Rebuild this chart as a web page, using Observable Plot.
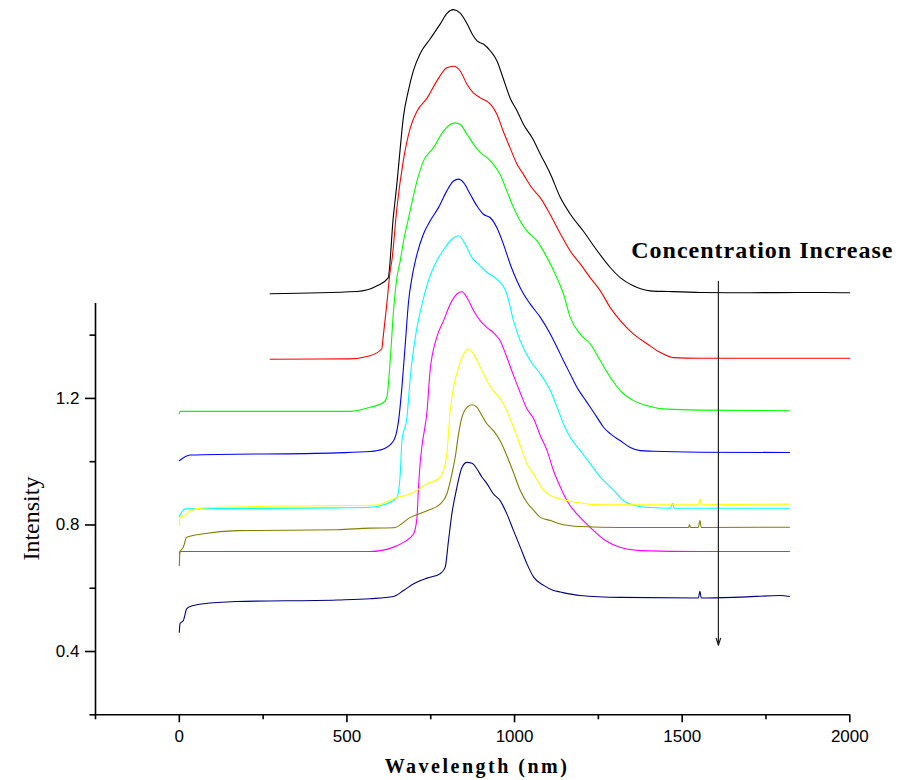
<!DOCTYPE html>
<html><head><meta charset="utf-8">
<script src="https://cdn.jsdelivr.net/npm/d3@7"></script>
<script src="https://cdn.jsdelivr.net/npm/@observablehq/plot@0.6"></script>
<style>html,body{margin:0;padding:0;background:#fff;}</style>
</head><body>
<div id="chart"></div>
<script>
// ---- Data (wavelength in nm, intensity) ----
const blackW = [271,530,590,623,638,649,659,668,683,698,719,748,778,799,817,838,859,874,889,907,928,948,966,987,1008,1026,1053,1077,1107,1137,1166,1205,1247,1286,1316,1354,1405,1456,1554,1700,1850,2000];
const blackI = [1.531,1.538,1.556,1.581,1.770,1.878,1.991,2.086,2.171,2.235,2.291,2.336,2.383,2.418,2.429,2.418,2.383,2.351,2.329,2.320,2.298,2.266,2.212,2.149,2.108,2.067,2.023,1.972,1.909,1.834,1.783,1.729,1.666,1.613,1.581,1.556,1.540,1.538,1.535,1.534,1.535,1.534];

const redW = [271,504,569,604,608,619,629,634,649,668,689,709,739,768,798,818,838,858,877,898,928,947,966,987,1007,1026,1052,1077,1107,1137,1166,1196,1226,1256,1286,1316,1354,1395,1435,1474,1554,2000];
const redI = [1.324,1.325,1.335,1.357,1.393,1.499,1.603,1.635,1.802,1.950,2.055,2.108,2.149,2.203,2.245,2.250,2.235,2.193,2.166,2.150,2.130,2.099,2.045,1.991,1.941,1.909,1.865,1.834,1.780,1.720,1.666,1.625,1.581,1.540,1.486,1.445,1.404,1.373,1.345,1.329,1.327,1.327];

const greenW = [0,2,510,569,609,619,629,639,649,659,669,684,709,728,758,788,808,823,838,858,878,898,918,937,957,977,997,1017,1037,1067,1097,1126,1146,1166,1196,1226,1256,1286,1316,1355,1395,1455,1554,1820];
const greenI = [1.152,1.159,1.159,1.172,1.187,1.203,1.319,1.477,1.582,1.635,1.698,1.771,1.887,1.950,1.992,2.045,2.066,2.071,2.066,2.035,2.003,1.977,1.961,1.940,1.908,1.856,1.803,1.761,1.729,1.698,1.645,1.582,1.530,1.456,1.403,1.372,1.319,1.266,1.224,1.193,1.177,1.166,1.163,1.161];

const blueW = [0,32,470,569,609,639,649,654,664,674,684,694,709,728,748,773,798,818,833,848,868,888,907,928,947,967,987,1007,1027,1047,1077,1107,1127,1146,1166,1186,1206,1226,1246,1266,1286,1316,1345,1375,1415,1554,1820];
const blueI = [1.003,1.021,1.028,1.032,1.040,1.066,1.098,1.130,1.235,1.372,1.508,1.582,1.656,1.719,1.761,1.803,1.856,1.887,1.893,1.882,1.845,1.808,1.782,1.771,1.740,1.687,1.624,1.572,1.530,1.498,1.456,1.403,1.361,1.319,1.277,1.235,1.203,1.172,1.140,1.108,1.088,1.066,1.045,1.035,1.033,1.030,1.029];

const cyanW = [0,17,470,569,619,649,659,664,679,689,704,724,743,768,793,813,833,853,873,893,918,947,977,997,1017,1047,1077,1107,1127,1146,1166,1196,1226,1256,1296,1325,1360,1405,1465,1471,1477,1820];
const cyanI = [0.827,0.851,0.854,0.856,0.867,0.887,0.961,1.066,1.140,1.267,1.393,1.498,1.572,1.635,1.677,1.703,1.714,1.687,1.645,1.624,1.598,1.577,1.530,1.445,1.382,1.319,1.277,1.224,1.172,1.119,1.077,1.035,0.993,0.951,0.909,0.877,0.861,0.855,0.853,0.868,0.853,0.853];

const magentaW = [0,2,569,639,669,699,709,713,719,724,739,748,768,788,808,828,843,858,878,898,918,937,957,977,997,1017,1037,1057,1077,1097,1116,1137,1156,1190,1226,1271,1316,1375,1554,1820];
const magentaI = [0.708,0.716,0.716,0.730,0.745,0.772,0.824,0.909,1.003,1.051,1.161,1.287,1.393,1.445,1.498,1.530,1.537,1.519,1.477,1.445,1.424,1.408,1.382,1.330,1.272,1.218,1.167,1.136,1.082,1.035,0.972,0.919,0.877,0.830,0.792,0.751,0.729,0.719,0.716,0.716];

const yellowW = [0,2,17,32,72,271,470,589,649,689,739,773,788,798,808,818,833,848,863,878,898,918,937,957,977,997,1017,1037,1057,1087,1107,1137,1181,1256,1548,1553,1557,1820];
const yellowI = [0.798,0.824,0.830,0.845,0.854,0.859,0.861,0.863,0.887,0.898,0.930,0.946,0.972,1.024,1.161,1.235,1.298,1.340,1.356,1.340,1.298,1.256,1.224,1.199,1.161,1.108,1.051,0.993,0.961,0.909,0.893,0.882,0.872,0.864,0.864,0.883,0.864,0.866];

const oliveW = [0,2,12,22,72,171,470,569,639,689,739,778,798,813,823,833,843,858,873,888,903,918,937,957,977,997,1017,1037,1057,1077,1107,1137,1196,1316,1519,1522,1525,1548,1553,1557,1820];
const oliveI = [0.672,0.714,0.730,0.761,0.772,0.782,0.785,0.790,0.791,0.824,0.845,0.866,0.898,0.961,1.014,1.088,1.140,1.172,1.180,1.172,1.145,1.119,1.098,1.066,1.019,0.965,0.909,0.871,0.846,0.824,0.814,0.803,0.795,0.792,0.792,0.801,0.792,0.792,0.814,0.792,0.793];

const navyW = [0,2,12,22,32,72,171,470,569,639,669,699,739,778,793,803,813,828,843,858,873,888,903,918,937,957,977,997,1017,1037,1057,1087,1116,1137,1196,1316,1548,1553,1557,1674,1793,1820];
const navyI = [0.461,0.488,0.498,0.535,0.542,0.551,0.558,0.563,0.567,0.574,0.593,0.614,0.632,0.646,0.666,0.751,0.835,0.919,0.982,0.998,0.995,0.977,0.951,0.930,0.898,0.877,0.835,0.782,0.730,0.677,0.635,0.609,0.593,0.588,0.577,0.571,0.569,0.590,0.569,0.572,0.577,0.574];

const seriesNames  = ["black","red","green","blue","cyan","magenta","yellow","olive","navy"];
const seriesColors = ["#000000","#ff0000","#00ff00","#0000ff","#00ffff","#ff00ff","#ffff00","#808000","#000080"];
const seriesW = [blackW, redW, greenW, blueW, cyanW, magentaW, yellowW, oliveW, navyW];
const seriesI = [blackI, redI, greenI, blueI, cyanI, magentaI, yellowI, oliveI, navyI];

const xMajor = [0, 500, 1000, 1500, 2000];
const xMinor = [-250, 250, 750, 1250, 1750];
const yMajor = [0.4, 0.8, 1.2];
const yMinor = [0.2, 0.6, 1.0, 1.4];

const annotationText = ["Concentration Increase"];
const annotationPos = [1739, 1.645];
const arrowPos = [1608, 1.57, 0.42];

// ---- Build table ----
const rows = seriesNames.flatMap((name, s) =>
  seriesW[s].map((w, k) => ({series: name, color: seriesColors[s], wl: w, intensity: seriesI[s][k]})));

const serif = "'Liberation Serif', 'Times New Roman', serif";

const chart = Plot.plot({
  width: 898, height: 780,
  marginLeft: 95, marginRight: 48.7, marginTop: 303, marginBottom: 65.7,
  style: {fontFamily: "'Liberation Sans', Arial, sans-serif", background: "white", overflow: "visible", color: "black"},
  x: {domain: [-250, 2000]},
  y: {domain: [0.2, 1.5]},
  color: {type: "identity"},
  marks: [
    Plot.line(rows, {x: "wl", y: "intensity", z: "series", stroke: "color", strokeWidth: 1.1, curve: "monotone-x"}),
    Plot.ruleX([-250], {y1: 0.2, y2: 1.5, strokeWidth: 1.6}),
    Plot.ruleY([0.2], {x1: -250, x2: 2000, strokeWidth: 1.6}),
    Plot.axisX({ticks: xMajor, tickSize: 8, tickPadding: 7, fontSize: 17, label: null, tickFormat: d => String(d), strokeWidth: 1.6}),
    Plot.axisX({ticks: xMinor, tickSize: 5, label: null, tickFormat: () => "", strokeWidth: 1.6}),
    Plot.axisY({ticks: yMajor, tickSize: 10, tickPadding: 6, fontSize: 17, label: null, tickFormat: d3.format(".1f"), strokeWidth: 1.6}),
    Plot.axisY({ticks: yMinor, tickSize: 5.5, label: null, tickFormat: () => "", strokeWidth: 1.6}),
    Plot.text(["Intensity"], {frameAnchor: "left", dx: -57, dy: 9.4, rotate: -90, textAnchor: "middle", lineAnchor: "bottom", fontFamily: serif, fontSize: 24, fill: "black"}),
    Plot.text(["Wavelength (nm)"], {frameAnchor: "bottom", dx: 4.4, dy: 57.7, textAnchor: "middle", lineAnchor: "bottom", fontFamily: serif, fontSize: 20, fontWeight: "bold", fill: "black"}),
    Plot.text(annotationText, {x: annotationPos[0], y: annotationPos[1], textAnchor: "middle", lineAnchor: "bottom", fontFamily: serif, fontSize: 24, fontWeight: "bold", fill: "black"}),
    Plot.arrow([0], {x1: arrowPos[0], x2: arrowPos[0], y1: arrowPos[1], y2: arrowPos[2], stroke: "#222", strokeWidth: 1.2, headLength: 9, headAngle: 35})
  ]
});

d3.select(chart).selectAll("text").each(function() {
  if (this.textContent === "Wavelength (nm)") d3.select(this).attr("letter-spacing", "2.5px");
  if (this.textContent === "Concentration Increase") d3.select(this).attr("letter-spacing", "1px");
});

document.getElementById("chart").appendChild(chart);
</script>
</body></html>
